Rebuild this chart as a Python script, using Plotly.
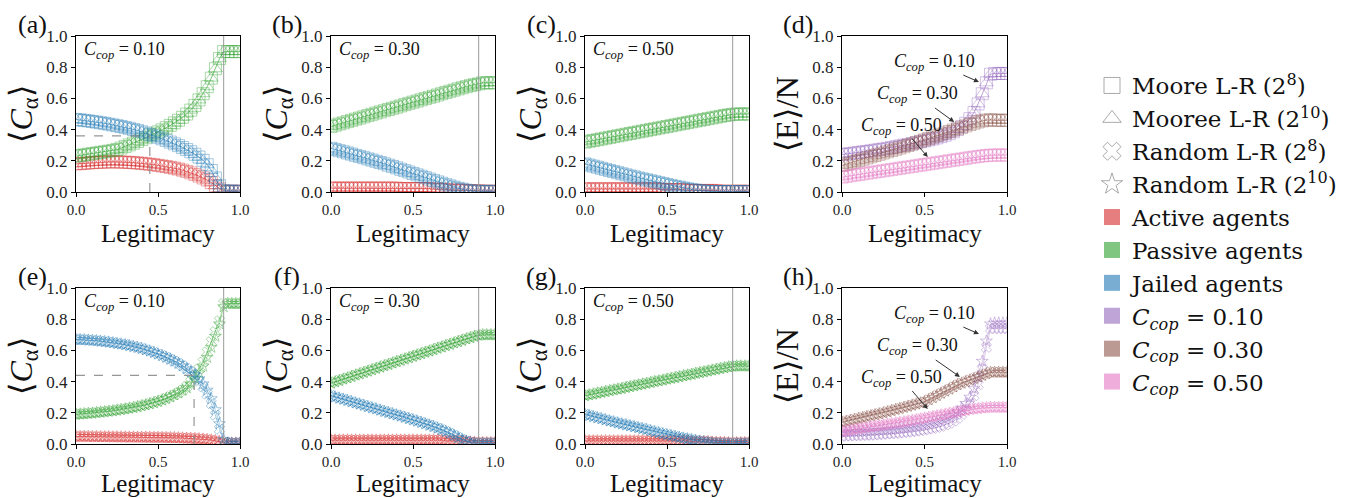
import plotly.graph_objects as go

# ---------------- data ----------------
LEGIT = [0.0, 0.025, 0.05, 0.075, 0.1, 0.125, 0.15, 0.175, 0.2, 0.225,
         0.25, 0.275, 0.3, 0.325, 0.35, 0.375, 0.4, 0.425, 0.45, 0.475,
         0.5, 0.525, 0.55, 0.575, 0.6, 0.625, 0.65, 0.675, 0.7, 0.725,
         0.75, 0.775, 0.8, 0.825, 0.85, 0.875, 0.9, 0.925, 0.95, 0.975,
         1.0]

# (a) Moore, C_cop = 0.10
A_ACTIVE = [.18, .182, .184, .186, .188, .19, .191, .192, .193, .193,
            .193, .192, .191, .19, .188, .186, .184, .181, .178, .175,
            .171, .167, .163, .158, .153, .147, .14, .132, .123, .113,
            .102, .09, .077, .06, .04, .02, .006, .005, .005, .005,
            .005]
A_PASSIVE = [.23, .234, .238, .242, .246, .25, .254, .258, .262, .267,
             .272, .282, .292, .302, .313, .324, .336, .348, .36, .372,
             .385, .398, .412, .427, .443, .46, .479, .50, .525, .555,
             .59, .63, .675, .73, .79, .855, .90, .90, .90, .90,
             .90]
A_JAILED = [.465, .462, .459, .456, .452, .448, .444, .44, .435, .43,
            .425, .42, .414, .408, .401, .394, .386, .378, .369, .36,
            .351, .341, .331, .32, .309, .297, .285, .272, .258, .242,
            .224, .203, .175, .138, .09, .04, .008, .005, .005, .005,
            .005]

# (b) Moore, C_cop = 0.30
B_ACTIVE = [.025, .025, .025, .025, .025, .025, .025, .025, .025, .025,
            .025, .025, .025, .025, .025, .025, .025, .022, .022, .022,
            .022, .022, .022, .022, .022, .018, .018, .018, .018, .012,
            .012, .012, .012, .008, .008, .008, .008, .005, .005, .005,
            .005]
B_PASSIVE = [.42, .428, .436, .443, .451, .459, .467, .474, .482, .49,
             .498, .506, .513, .521, .529, .537, .544, .552, .56, .568,
             .576, .583, .591, .599, .607, .614, .622, .63, .638, .646,
             .653, .661, .668, .675, .682, .688, .693, .70, .70, .70,
             .70]
B_JAILED = [.28, .273, .265, .258, .25, .243, .235, .228, .22, .212,
            .205, .197, .189, .181, .172, .164, .155, .146, .137, .128,
            .119, .11, .101, .092, .083, .074, .065, .056, .047, .039,
            .031, .024, .018, .012, .008, .005, .004, .004, .004, .004,
            .004]

# (c) Moore, C_cop = 0.50
C_ACTIVE = [.02, .02, .02, .02, .02, .02, .02, .02, .02, .02,
            .02, .02, .02, .02, .02, .02, .02, .02, .02, .015,
            .015, .015, .015, .015, .015, .01, .01, .01, .01, .01,
            .01, .01, .01, .005, .005, .005, .005, .005, .005, .005,
            .005]
C_PASSIVE = [.32, .325, .33, .335, .34, .345, .35, .355, .36, .365,
             .37, .375, .38, .385, .39, .395, .40, .405, .41, .415,
             .42, .425, .43, .435, .44, .445, .45, .455, .46, .465,
             .47, .475, .48, .485, .49, .494, .498, .50, .50, .50,
             .50]
C_JAILED = [.18, .173, .166, .159, .152, .145, .138, .131, .124, .117,
            .11, .103, .097, .09, .084, .078, .072, .066, .06, .054,
            .048, .042, .036, .031, .026, .021, .016, .012, .009, .006,
            .004, .003, .003, .003, .003, .003, .003, .003, .003, .003,
            .003]

# (d) Moore, <E>/N
D_C10 = [.24, .243, .246, .25, .253, .257, .26, .264, .268, .272,
         .276, .28, .285, .29, .295, .30, .305, .31, .316, .322,
         .328, .334, .34, .347, .355, .364, .374, .386, .40, .418,
         .44, .47, .51, .565, .63, .70, .755, .76, .76, .76,
         .76]
D_C30 = [.17, .178, .186, .194, .202, .21, .218, .226, .234, .242,
         .25, .258, .266, .274, .282, .29, .298, .307, .316, .325,
         .334, .343, .352, .361, .37, .379, .388, .397, .406, .415,
         .424, .433, .441, .449, .456, .461, .463, .46, .46, .46,
         .46]
D_C50 = [.095, .10, .104, .108, .112, .116, .12, .124, .128, .132,
         .136, .14, .144, .148, .152, .156, .16, .164, .168, .172,
         .176, .18, .184, .188, .192, .196, .20, .204, .208, .212,
         .216, .22, .224, .228, .231, .234, .236, .237, .237, .237,
         .237]

# (e) Random, C_cop = 0.10
E_ACTIVE = [.048, .048, .048, .047, .047, .047, .046, .046, .046, .045,
            .045, .045, .044, .044, .044, .043, .043, .043, .042, .042,
            .042, .041, .041, .04, .04, .039, .038, .037, .036, .035,
            .033, .031, .028, .025, .021, .015, .007, .005, .005, .005,
            .005]
E_PASSIVE = [.19, .192, .194, .196, .198, .201, .204, .207, .21, .213,
             .217, .221, .225, .229, .234, .239, .245, .251, .258, .265,
             .273, .282, .292, .303, .315, .328, .345, .368, .398, .44,
             .48, .525, .59, .655, .72, .79, .90, .90, .90, .90,
             .90]
E_PASSIVE_S = [.19, .192, .194, .196, .198, .201, .204, .207, .21, .213,
               .217, .221, .225, .229, .234, .239, .245, .251, .258, .265,
               .273, .282, .292, .303, .315, .328, .345, .36, .385, .42,
               .455, .50, .555, .62, .69, .77, .88, .90, .90, .90,
               .90]
E_JAILED = [.67, .669, .668, .666, .664, .662, .659, .656, .653, .649,
            .645, .641, .636, .631, .625, .619, .612, .604, .596, .587,
            .577, .567, .556, .544, .531, .517, .501, .483, .462, .437,
            .405, .367, .32, .26, .185, .095, .01, .005, .005, .005,
            .005]
E_JAILED_S = [.67, .669, .668, .666, .664, .662, .659, .656, .653, .649,
              .645, .641, .636, .631, .625, .619, .612, .604, .596, .587,
              .577, .567, .556, .544, .531, .517, .501, .483, .462, .445,
              .418, .385, .345, .29, .22, .13, .03, .005, .005, .005,
              .005]

# (f) Random, C_cop = 0.30
F_ACTIVE = [.025, .025, .025, .025, .025, .025, .025, .025, .025, .025,
            .025, .025, .025, .025, .025, .025, .025, .025, .025, .025,
            .025, .025, .025, .025, .025, .025, .025, .025, .02, .02,
            .02, .02, .02, .015, .012, .01, .01, .008, .008, .008,
            .008]
F_PASSIVE = [.39, .399, .407, .416, .424, .433, .442, .45, .459, .467,
             .476, .485, .493, .502, .51, .519, .528, .536, .545, .553,
             .562, .571, .579, .588, .596, .605, .614, .622, .631, .639,
             .648, .657, .665, .674, .682, .69, .697, .70, .70, .70,
             .70]
F_JAILED = [.31, .302, .294, .287, .279, .271, .263, .256, .248, .24,
            .232, .225, .217, .209, .202, .194, .186, .179, .171, .163,
            .155, .147, .139, .13, .121, .112, .102, .092, .081, .069,
            .056, .042, .029, .018, .01, .005, .004, .004, .004, .004,
            .004]

# (g) Random, C_cop = 0.50
G_ACTIVE = [.02, .02, .02, .02, .02, .02, .02, .02, .02, .02,
            .02, .02, .02, .02, .02, .02, .02, .02, .02, .02,
            .02, .02, .02, .02, .02, .02, .015, .015, .015, .015,
            .015, .012, .01, .01, .01, .008, .008, .008, .008, .008,
            .008]
G_PASSIVE = [.31, .315, .32, .326, .331, .336, .342, .347, .352, .357,
             .363, .368, .373, .379, .384, .389, .394, .40, .405, .41,
             .416, .421, .426, .431, .437, .442, .447, .453, .458, .463,
             .468, .474, .479, .484, .489, .494, .498, .50, .50, .50,
             .50]
G_JAILED = [.19, .183, .176, .169, .162, .155, .148, .142, .135, .129,
            .123, .117, .111, .105, .099, .093, .085, .079, .073, .066,
            .06, .054, .048, .043, .038, .033, .028, .023, .018, .014,
            .01, .007, .005, .003, .003, .003, .003, .003, .003, .003,
            .003]

# (h) Random, <E>/N
H_C10_X = [.05, .051, .052, .053, .054, .055, .056, .057, .058, .06,
           .062, .064, .066, .068, .07, .073, .076, .079, .082, .086,
           .09, .095, .10, .106, .113, .122, .133, .147, .165, .19,
           .22, .26, .31, .38, .48, .62, .74, .74, .74, .74,
           .74]
H_C10_S = [.075, .076, .077, .078, .079, .08, .082, .083, .085, .087,
           .089, .091, .093, .096, .099, .102, .105, .109, .113, .117,
           .122, .128, .134, .141, .149, .159, .171, .186, .205, .23,
           .26, .30, .355, .43, .53, .66, .77, .775, .775, .775,
           .775]
H_C30 = [.14, .146, .152, .158, .164, .17, .176, .182, .188, .194,
         .20, .207, .214, .221, .228, .235, .242, .249, .256, .263,
         .27, .284, .297, .311, .325, .339, .352, .366, .38, .39,
         .40, .41, .42, .43, .44, .45, .46, .46, .46, .46,
         .46]
H_C50 = [.08, .085, .09, .095, .099, .103, .107, .111, .115, .119,
         .123, .127, .131, .135, .139, .143, .147, .151, .156, .161,
         .166, .171, .176, .181, .186, .191, .196, .201, .206, .211,
         .216, .221, .225, .228, .231, .233, .235, .235, .235, .235,
         .235]

CCOP_LABELS = ["0.10", "0.30", "0.50", "0.10", "0.30", "0.50"]
V_LINE_X = 0.9
CROSS_A = (0.45, 0.36)
CROSS_E = (0.72, 0.44)
PANEL_LABELS = ["(a)", "(b)", "(c)", "(d)", "(e)", "(f)", "(g)", "(h)"]
X_TITLE = "Legitimacy"
LEGEND_NAMES = ["Moore L-R (2<sup>8</sup>)", "Mooree L-R (2<sup>10</sup>)",
                "Random L-R (2<sup>8</sup>)", "Random L-R (2<sup>10</sup>)",
                "Active agents", "Passive agents", "Jailed agents",
                "<i>C</i><sub><i>cop</i></sub> = 0.10",
                "<i>C</i><sub><i>cop</i></sub> = 0.30",
                "<i>C</i><sub><i>cop</i></sub> = 0.50"]

# ---------------- style ----------------
FONT = "Liberation Serif"
LEG_FONT = "DejaVu Serif"
RED = (214, 39, 40)
GREEN = (44, 160, 44)
BLUE = (31, 119, 180)
PURPLE = (148, 103, 189)
BROWN = (140, 86, 75)
PINK = (227, 119, 194)
MOORE_SYMS = ("square-open", "triangle-up-open")
RANDOM_SYMS = ("x-open", "star-open")

W, H = 1360, 498
COL_PX = [(76, 240), (331, 495), (585, 749), (842, 1007)]
ROW_PX = [(36, 192), (288, 444)]


def rgba(c, a):
    return "rgba(%d,%d,%d,%.3f)" % (c[0], c[1], c[2], a)


panels = [
    dict(syms=MOORE_SYMS, size=12, series=[(RED, A_ACTIVE, A_ACTIVE), (GREEN, A_PASSIVE, A_PASSIVE), (BLUE, A_JAILED, A_JAILED)]),
    dict(syms=MOORE_SYMS, size=12, series=[(RED, B_ACTIVE, B_ACTIVE), (GREEN, B_PASSIVE, B_PASSIVE), (BLUE, B_JAILED, B_JAILED)]),
    dict(syms=MOORE_SYMS, size=12, series=[(RED, C_ACTIVE, C_ACTIVE), (GREEN, C_PASSIVE, C_PASSIVE), (BLUE, C_JAILED, C_JAILED)]),
    dict(syms=MOORE_SYMS, size=12, series=[(PURPLE, D_C10, D_C10), (BROWN, D_C30, D_C30), (PINK, D_C50, D_C50)]),
    dict(syms=RANDOM_SYMS, size=9, series=[(RED, E_ACTIVE, E_ACTIVE), (GREEN, E_PASSIVE, E_PASSIVE_S), (BLUE, E_JAILED, E_JAILED_S)]),
    dict(syms=RANDOM_SYMS, size=9, series=[(RED, F_ACTIVE, F_ACTIVE), (GREEN, F_PASSIVE, F_PASSIVE), (BLUE, F_JAILED, F_JAILED)]),
    dict(syms=RANDOM_SYMS, size=9, series=[(RED, G_ACTIVE, G_ACTIVE), (GREEN, G_PASSIVE, G_PASSIVE), (BLUE, G_JAILED, G_JAILED)]),
    dict(syms=RANDOM_SYMS, size=9, series=[(PURPLE, H_C10_X, H_C10_S), (BROWN, H_C30, H_C30), (PINK, H_C50, H_C50)]),
]

fig = go.Figure()
layout = dict(template="none", width=W, height=H, margin=dict(l=0, r=0, t=0, b=0, pad=0),
              paper_bgcolor="white", plot_bgcolor="white",
              font=dict(family=FONT, color="#111"), autosize=False)
shapes, annotations = [], []

for i, p in enumerate(panels):
    r, c = divmod(i, 4)
    n = i + 1
    xa = "x" if n == 1 else "x%d" % n
    ya = "y" if n == 1 else "y%d" % n
    x0, x1 = COL_PX[c]
    yt, yb = ROW_PX[r]
    is_e = (c == 3)
    layout["xaxis" if n == 1 else "xaxis%d" % n] = dict(
        domain=[x0 / W, x1 / W], anchor=ya, range=[0, 1], automargin=False,
        tickvals=[0, 0.5, 1.0], ticktext=["0.0", "0.5", "1.0"],
        ticks="outside", ticklen=4, tickcolor="black", tickwidth=1,
        showline=True, mirror=True, linecolor="black", linewidth=1,
        showgrid=False, zeroline=False,
        tickfont=dict(size=15, family=FONT, color="#222"))
    layout["yaxis" if n == 1 else "yaxis%d" % n] = dict(
        domain=[(H - yb) / H, (H - yt) / H], anchor=xa, range=[0, 1], automargin=False,
        tickvals=[0, 0.2, 0.4, 0.6, 0.8, 1.0],
        ticktext=["0.0", "0.2", "0.4", "0.6", "0.8", "1.0"],
        ticks="outside", ticklen=4, tickcolor="black", tickwidth=1,
        showline=True, mirror=True, linecolor="black", linewidth=1,
        showgrid=False, zeroline=False,
        tickfont=dict(size=17, family=FONT, color="#222"),
        title=dict(text=("⟨E⟩/N" if is_e else "⟨<i>C</i><sub>α</sub>⟩"),
                   font=dict(size=32, family=FONT, color="#111"), standoff=4))

    for color, v1, v2 in p["series"]:
        for sym, vals in zip(p["syms"], (v1, v2)):
            fig.add_trace(go.Scatter(
                x=LEGIT, y=vals, mode="lines+markers", xaxis=xa, yaxis=ya,
                showlegend=False, hoverinfo="skip",
                line=dict(color=rgba(color, 0.35), width=1),
                marker=dict(symbol=sym, size=p["size"], color=rgba(color, 0.4),
                            line=dict(width=1, color=rgba(color, 0.4)))))

    # x-axis title
    if r == 0:
        xt = dict(y=(H - (yb + 42)) / H, yanchor="middle")
    else:
        xt = dict(y=0, yanchor="bottom")
    annotations.append(dict(text=X_TITLE, xref="paper", yref="paper",
                            x=(x0 + x1) / 2 / W, showarrow=False, xanchor="center", borderpad=0,
                            font=dict(size=25, family=FONT, color="#111"), **xt))
    # panel letter
    annotations.append(dict(text=PANEL_LABELS[i], xref="paper", yref="paper",
                            x=(x0 - 44) / W, y=(H - (yt - 12)) / H, showarrow=False,
                            xanchor="center", yanchor="middle",
                            font=dict(size=26, family=FONT, color="#111")))
    if not is_e:
        shapes.append(dict(type="line", xref=xa, yref=ya + " domain", x0=V_LINE_X, x1=V_LINE_X,
                           y0=0, y1=1, line=dict(color="rgba(150,150,150,0.8)", width=1.2)))
        annotations.append(dict(text="<i>C</i><sub><i>cop</i></sub> = " + CCOP_LABELS[i if i < 3 else i - 1],
                                xref=xa, yref=ya, x=0.035, y=0.905, xanchor="left", yanchor="middle",
                                showarrow=False, font=dict(size=18, family=FONT, color="#111")))
    else:
        tips = [(0.83, 0.705), (0.68 if r == 0 else 0.715, 0.449 if r == 0 else 0.43), (0.52, 0.224)]
        texts = [(0.558, 0.833), (0.455, 0.622), (0.358, 0.423)]
        for lab, (tx, ty), (ax, ay) in zip(["0.10", "0.30", "0.50"], tips, texts):
            annotations.append(dict(text="<i>C</i><sub><i>cop</i></sub> = " + lab,
                                    xref=xa, yref=ya, x=tx, y=ty, axref=xa, ayref=ya, ax=ax, ay=ay,
                                    showarrow=True, arrowhead=2, arrowsize=1, arrowwidth=1,
                                    arrowcolor="#333", standoff=0,
                                    font=dict(size=18, family=FONT, color="#111")))

for (cx, cy), n in ((CROSS_A, 1), (CROSS_E, 5)):
    xa = "x" if n == 1 else "x%d" % n
    ya = "y" if n == 1 else "y%d" % n
    shapes.append(dict(type="line", xref=xa, yref=ya, x0=0, x1=cx, y0=cy, y1=cy,
                       line=dict(color="rgba(140,140,140,0.9)", width=1.2, dash="dash")))
    shapes.append(dict(type="line", xref=xa, yref=ya, x0=cx, x1=cx, y0=0, y1=cy,
                       line=dict(color="rgba(140,140,140,0.9)", width=1.2, dash="dash")))

# legend entries
for name, sym in zip(LEGEND_NAMES[:4], MOORE_SYMS + RANDOM_SYMS):
    fig.add_trace(go.Scatter(x=[None], y=[None], mode="markers", name=name,
                             marker=dict(symbol=sym, size=16, color="rgba(160,160,160,0.9)",
                                         line=dict(width=1))))
for name, color in zip(LEGEND_NAMES[4:], [RED, GREEN, BLUE, PURPLE, BROWN, PINK]):
    fig.add_trace(go.Scatter(x=[None], y=[None], mode="markers", name=name,
                             marker=dict(symbol="square", size=16, color=rgba(color, 0.6),
                                         line=dict(width=0))))

layout["shapes"] = shapes
layout["annotations"] = annotations
layout["showlegend"] = True
layout["legend"] = dict(x=1092 / W, y=(H - 64) / H, xanchor="left", yanchor="top",
                        font=dict(size=23, family=LEG_FONT, color="#111"),
                        bgcolor="rgba(0,0,0,0)", borderwidth=0, tracegroupgap=0, itemsizing="trace")
fig.update_layout(**layout)
fig.write_html("out.html", config={"displayModeBar": False},
               post_script="document.body.style.margin='0px';")
